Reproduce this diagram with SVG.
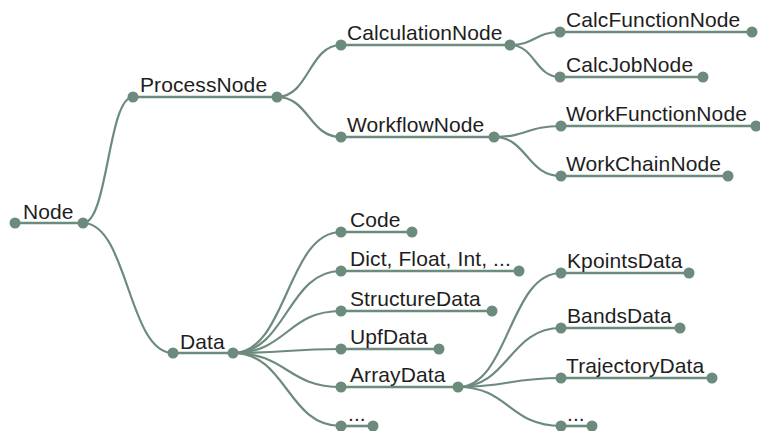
<svg xmlns="http://www.w3.org/2000/svg" width="760" height="431" viewBox="0 0 760 431">
  <style>
    .link { fill: none; stroke: #6d8b7d; stroke-width: 2.2; }
    .bar { stroke: #6d8b7d; stroke-width: 2.6; }
    .dot { fill: #6d8b7d; }
    .label { font-family: "Liberation Sans", Arial, sans-serif; font-size: 21px; letter-spacing: 0.1px; fill: #1e1e1e; }
  </style>
  <rect width="760" height="431" fill="#ffffff"/>

  <!-- tree branches: parent right dot to child left dot -->
  <g id="connectors">
    <path class="link" d="M83,223 C108,223 108,97 133,97"/>
    <path class="link" d="M83,223 C128,223 128,353 173,353"/>
    <path class="link" d="M277,97 C309,97 309,45 341,45"/>
    <path class="link" d="M277,97 C309,97 309,137 341,137"/>
    <path class="link" d="M510,45 C535,45 535,32 560,32"/>
    <path class="link" d="M510,45 C535,45 535,77 560,77"/>
    <path class="link" d="M494,137 C527,137 527,126 561,126"/>
    <path class="link" d="M494,137 C527,137 527,176 561,176"/>
    <path class="link" d="M233,353 C287,353 287,232 341,232"/>
    <path class="link" d="M233,353 C287,353 287,271 341,271"/>
    <path class="link" d="M233,353 C287,353 287,311 341,311"/>
    <path class="link" d="M233,353 C287,353 287,349 341,349"/>
    <path class="link" d="M233,353 C287,353 287,387 341,387"/>
    <path class="link" d="M233,353 C287,353 287,426 341,426"/>
    <path class="link" d="M458,387 C509,387 509,273 561,273"/>
    <path class="link" d="M458,387 C509,387 509,328 561,328"/>
    <path class="link" d="M458,387 C509,387 509,378 561,378"/>
    <path class="link" d="M458,387 C509,387 509,426 561,426"/>
  </g>

  <g id="node-node">
    <line class="bar" x1="15" y1="223" x2="83" y2="223"/>
    <circle class="dot" cx="15" cy="223" r="5.5"/>
    <circle class="dot" cx="83" cy="223" r="5.5"/>
    <text class="label" x="23" y="219">Node</text>
  </g>
  <g id="node-processnode">
    <line class="bar" x1="133" y1="97" x2="277" y2="97"/>
    <circle class="dot" cx="133" cy="97" r="5.5"/>
    <circle class="dot" cx="277" cy="97" r="5.5"/>
    <text class="label" x="140" y="92">ProcessNode</text>
  </g>
  <g id="node-calculationnode">
    <line class="bar" x1="341" y1="45" x2="510" y2="45"/>
    <circle class="dot" cx="341" cy="45" r="5.5"/>
    <circle class="dot" cx="510" cy="45" r="5.5"/>
    <text class="label" x="347" y="40">CalculationNode</text>
  </g>
  <g id="node-calcfunctionnode">
    <line class="bar" x1="560" y1="32" x2="752" y2="32"/>
    <circle class="dot" cx="560" cy="32" r="5.5"/>
    <circle class="dot" cx="752" cy="32" r="5.5"/>
    <text class="label" x="566" y="27">CalcFunctionNode</text>
  </g>
  <g id="node-calcjobnode">
    <line class="bar" x1="560" y1="77" x2="703" y2="77"/>
    <circle class="dot" cx="560" cy="77" r="5.5"/>
    <circle class="dot" cx="703" cy="77" r="5.5"/>
    <text class="label" x="566" y="72">CalcJobNode</text>
  </g>
  <g id="node-workflownode">
    <line class="bar" x1="341" y1="137" x2="494" y2="137"/>
    <circle class="dot" cx="341" cy="137" r="5.5"/>
    <circle class="dot" cx="494" cy="137" r="5.5"/>
    <text class="label" x="347" y="132">WorkflowNode</text>
  </g>
  <g id="node-workfunctionnode">
    <line class="bar" x1="561" y1="126" x2="756" y2="126"/>
    <circle class="dot" cx="561" cy="126" r="5.5"/>
    <circle class="dot" cx="756" cy="126" r="5.5"/>
    <text class="label" x="566" y="121">WorkFunctionNode</text>
  </g>
  <g id="node-workchainnode">
    <line class="bar" x1="561" y1="176" x2="728" y2="176"/>
    <circle class="dot" cx="561" cy="176" r="5.5"/>
    <circle class="dot" cx="728" cy="176" r="5.5"/>
    <text class="label" x="566" y="171">WorkChainNode</text>
  </g>
  <g id="node-data">
    <line class="bar" x1="173" y1="353" x2="233" y2="353"/>
    <circle class="dot" cx="173" cy="353" r="5.5"/>
    <circle class="dot" cx="233" cy="353" r="5.5"/>
    <text class="label" x="180" y="349">Data</text>
  </g>
  <g id="node-code">
    <line class="bar" x1="341" y1="232" x2="412" y2="232"/>
    <circle class="dot" cx="341" cy="232" r="5.5"/>
    <circle class="dot" cx="412" cy="232" r="5.5"/>
    <text class="label" x="350" y="227">Code</text>
  </g>
  <g id="node-dict">
    <line class="bar" x1="341" y1="271" x2="519" y2="271"/>
    <circle class="dot" cx="341" cy="271" r="5.5"/>
    <circle class="dot" cx="519" cy="271" r="5.5"/>
    <text class="label" x="350" y="266">Dict, Float, Int, ...</text>
  </g>
  <g id="node-structuredata">
    <line class="bar" x1="341" y1="311" x2="492" y2="311"/>
    <circle class="dot" cx="341" cy="311" r="5.5"/>
    <circle class="dot" cx="492" cy="311" r="5.5"/>
    <text class="label" x="350" y="306">StructureData</text>
  </g>
  <g id="node-upfdata">
    <line class="bar" x1="341" y1="349" x2="439" y2="349"/>
    <circle class="dot" cx="341" cy="349" r="5.5"/>
    <circle class="dot" cx="439" cy="349" r="5.5"/>
    <text class="label" x="350" y="344">UpfData</text>
  </g>
  <g id="node-arraydata">
    <line class="bar" x1="341" y1="387" x2="458" y2="387"/>
    <circle class="dot" cx="341" cy="387" r="5.5"/>
    <circle class="dot" cx="458" cy="387" r="5.5"/>
    <text class="label" x="350" y="382">ArrayData</text>
  </g>
  <g id="node-data-more">
    <line class="bar" x1="341" y1="426" x2="373" y2="426"/>
    <circle class="dot" cx="341" cy="426" r="5.5"/>
    <circle class="dot" cx="373" cy="426" r="5.5"/>
    <text class="label" x="348" y="421">...</text>
  </g>
  <g id="node-kpointsdata">
    <line class="bar" x1="561" y1="273" x2="689" y2="273"/>
    <circle class="dot" cx="561" cy="273" r="5.5"/>
    <circle class="dot" cx="689" cy="273" r="5.5"/>
    <text class="label" x="567" y="268">KpointsData</text>
  </g>
  <g id="node-bandsdata">
    <line class="bar" x1="561" y1="328" x2="680" y2="328"/>
    <circle class="dot" cx="561" cy="328" r="5.5"/>
    <circle class="dot" cx="680" cy="328" r="5.5"/>
    <text class="label" x="567" y="323">BandsData</text>
  </g>
  <g id="node-trajectorydata">
    <line class="bar" x1="561" y1="378" x2="712" y2="378"/>
    <circle class="dot" cx="561" cy="378" r="5.5"/>
    <circle class="dot" cx="712" cy="378" r="5.5"/>
    <text class="label" x="566" y="373">TrajectoryData</text>
  </g>
  <g id="node-array-more">
    <line class="bar" x1="561" y1="426" x2="592" y2="426"/>
    <circle class="dot" cx="561" cy="426" r="5.5"/>
    <circle class="dot" cx="592" cy="426" r="5.5"/>
    <text class="label" x="567" y="421">...</text>
  </g>
</svg>
